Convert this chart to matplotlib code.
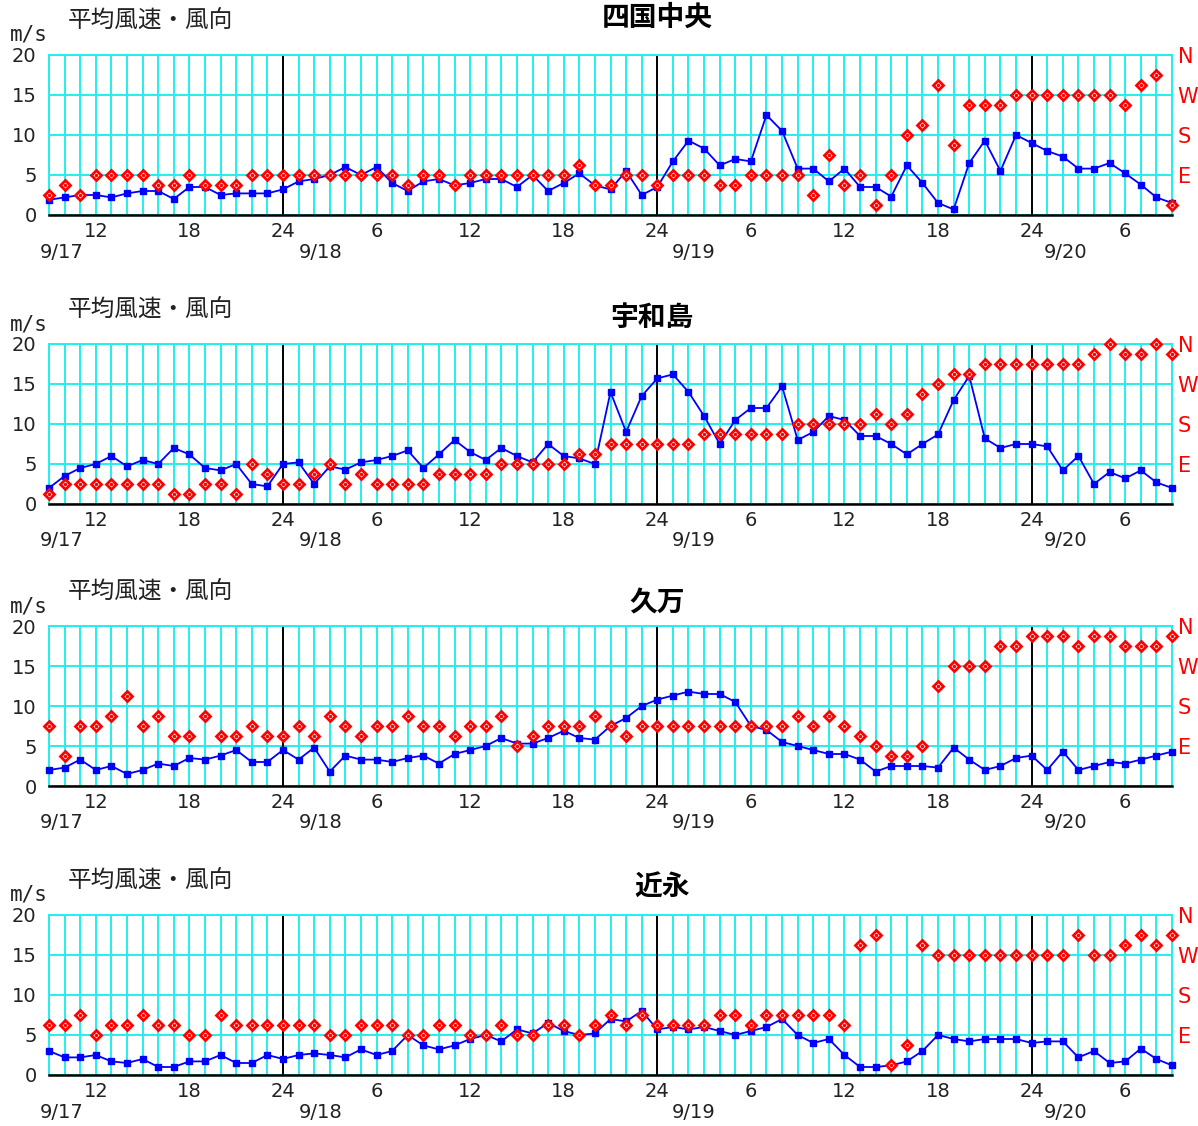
import numpy as np
import matplotlib
matplotlib.use('Agg')
import matplotlib.pyplot as plt
import matplotlib.transforms as mtransforms

plt.rcParams['font.family'] = ['Noto Sans CJK JP', 'DejaVu Sans']

# hourly values from 9/17 9:00 to 9/20 9:00 (73 points)
hours = np.arange(73)

stations = ['四国中央', '宇和島', '久万', '近永']

# mean wind speed (m/s)
speed_shikoku = [1.9, 2.2, 2.5, 2.5, 2.2, 2.7, 3.0, 3.0, 2.0, 3.5, 3.5, 2.5, 2.7, 2.7, 2.7, 3.2,
                 4.2, 4.5, 5.0, 6.0, 5.0, 6.0, 4.0, 3.0, 4.2, 4.5, 3.7, 4.0, 4.5, 4.5, 3.5, 5.0, 3.0, 4.0, 5.2, 3.7, 3.2, 5.5, 2.5, 3.5,
                 6.7, 9.3, 8.3, 6.2, 7.0, 6.7, 12.5, 10.5, 5.8, 5.8, 4.2, 5.8, 3.5, 3.5, 2.3, 6.2, 4.0, 1.5, 0.7, 6.5, 9.3, 5.5, 10.0, 9.0,
                 8.0, 7.3, 5.8, 5.8, 6.5, 5.2, 3.8, 2.2, 1.5]
speed_uwajima = [2.0, 3.5, 4.5, 5.0, 6.0, 4.7, 5.5, 5.0, 7.0, 6.2, 4.5, 4.2, 5.0, 2.5, 2.2, 5.0,
                 5.2, 2.5, 4.7, 4.3, 5.2, 5.5, 6.0, 6.7, 4.5, 6.2, 8.0, 6.5, 5.5, 7.0, 6.0, 5.2, 7.5, 6.0, 5.7, 5.0, 14.0, 9.0, 13.5, 15.7,
                 16.2, 14.0, 11.0, 7.5, 10.5, 12.0, 12.0, 14.7, 8.0, 9.0, 11.0, 10.5, 8.5, 8.5, 7.5, 6.2, 7.5, 8.7, 13.0, 16.0, 8.2, 7.0, 7.5, 7.5,
                 7.2, 4.2, 6.0, 2.5, 4.0, 3.2, 4.2, 2.7, 2.0]
speed_kuma = [2.0, 2.3, 3.3, 2.0, 2.5, 1.5, 2.0, 2.8, 2.5, 3.5, 3.3, 3.8, 4.5, 3.0, 3.0, 4.5,
              3.3, 4.8, 1.8, 3.8, 3.3, 3.3, 3.0, 3.5, 3.8, 2.8, 4.0, 4.5, 5.0, 6.0, 5.3, 5.3, 6.0, 6.9, 6.0, 5.8, 7.5, 8.5, 10.0, 10.8,
              11.3, 11.8, 11.5, 11.5, 10.5, 7.5, 7.0, 5.5, 5.0, 4.5, 4.0, 4.0, 3.3, 1.8, 2.5, 2.5, 2.5, 2.3, 4.8, 3.3, 2.0, 2.5, 3.5, 3.8,
              2.0, 4.3, 2.0, 2.5, 3.0, 2.8, 3.3, 3.8, 4.3]
speed_chikanaga = [3.0, 2.2, 2.2, 2.5, 1.7, 1.5, 2.0, 1.0, 1.0, 1.7, 1.7, 2.5, 1.5, 1.5, 2.5, 2.0,
                   2.5, 2.7, 2.5, 2.2, 3.2, 2.5, 3.0, 5.0, 3.7, 3.2, 3.7, 4.5, 5.0, 4.2, 5.7, 5.2, 6.5, 5.5, 5.0, 5.2, 7.0, 6.7, 8.0, 5.7,
                   6.0, 5.7, 6.0, 5.5, 5.0, 5.5, 6.0, 7.0, 5.0, 4.0, 4.5, 2.5, 1.0, 1.0, 1.2, 1.7, 3.0, 5.0, 4.5, 4.2, 4.5, 4.5, 4.5, 4.0,
                   4.2, 4.2, 2.2, 3.0, 1.5, 1.7, 3.3, 2.0, 1.2]

# wind direction, 16 points (1 = NNE ... 4 = E, 8 = S, 12 = W, 16 = N)
dir_shikoku = [2, 3, 2, 4, 4, 4, 4, 3, 3, 4, 3, 3, 3, 4, 4, 4,
               4, 4, 4, 4, 4, 4, 4, 3, 4, 4, 3, 4, 4, 4, 4, 4, 4, 4, 5, 3, 3, 4, 4, 3,
               4, 4, 4, 3, 3, 4, 4, 4, 4, 2, 6, 3, 4, 1, 4, 8, 9, 13, 7, 11, 11, 11, 12, 12,
               12, 12, 12, 12, 12, 11, 13, 14, 1]
dir_uwajima = [1, 2, 2, 2, 2, 2, 2, 2, 1, 1, 2, 2, 1, 4, 3, 2,
               2, 3, 4, 2, 3, 2, 2, 2, 2, 3, 3, 3, 3, 4, 4, 4, 4, 4, 5, 5, 6, 6, 6, 6,
               6, 6, 7, 7, 7, 7, 7, 7, 8, 8, 8, 8, 8, 9, 8, 9, 11, 12, 13, 13, 14, 14, 14, 14,
               14, 14, 14, 15, 16, 15, 15, 16, 15]
dir_kuma = [6, 3, 6, 6, 7, 9, 6, 7, 5, 5, 7, 5, 5, 6, 5, 5,
            6, 5, 7, 6, 5, 6, 6, 7, 6, 6, 5, 6, 6, 7, 4, 5, 6, 6, 6, 7, 6, 5, 6, 6,
            6, 6, 6, 6, 6, 6, 6, 6, 7, 6, 7, 6, 5, 4, 3, 3, 4, 10, 12, 12, 12, 14, 14, 15,
            15, 15, 14, 15, 15, 14, 14, 14, 15]
dir_chikanaga = [5, 5, 6, 4, 5, 5, 6, 5, 5, 4, 4, 6, 5, 5, 5, 5,
                 5, 5, 4, 4, 5, 5, 5, 4, 4, 5, 5, 4, 4, 5, 4, 4, 5, 5, 4, 5, 6, 5, 6, 5,
                 5, 5, 5, 6, 6, 5, 6, 6, 6, 6, 6, 5, 13, 14, 1, 3, 13, 12, 12, 12, 12, 12, 12, 12,
                 12, 12, 14, 12, 12, 13, 14, 13, 14]

speeds = [speed_shikoku, speed_uwajima, speed_kuma, speed_chikanaga]
dirs = [dir_shikoku, dir_uwajima, dir_kuma, dir_chikanaga]

tick_pos = [3, 9, 15, 21, 27, 33, 39, 45, 51, 57, 63, 69]
tick_labels = ['12', '18', '24', '6', '12', '18', '24', '6', '12', '18', '24', '6']
midnights = [15, 39, 63]
day_pos = [0.8, 17.4, 41.3, 65.2]
day_labels = ['9/17', '9/18', '9/19', '9/20']
dir_ticks = [4, 8, 12, 16]
dir_labels = ['E', 'S', 'W', 'N']

W, H = 1198, 1126
fig = plt.figure(figsize=(W / 100, H / 100), dpi=100)

cyan = '#22EEEE'
panel_tops = [55, 344, 626, 915]
title_xy = [(657, 18), (652, 318), (657, 603), (662, 888)]


def px(x, y):
    return x / W, 1 - y / H


for i, top in enumerate(panel_tops):
    ax = fig.add_axes([49 / W, 1 - (top + 160) / H, 1123 / W, 160 / H])
    ax.set_xlim(0, 72)
    ax.set_ylim(0, 20)
    ax.set_axisbelow(True)

    ax.set_xticks(hours, minor=True)
    ax.set_xticks(tick_pos)
    ax.set_xticklabels(tick_labels)
    ax.set_yticks([0, 5, 10, 15, 20])
    ax.grid(True, which='both', axis='x', color=cyan, lw=1.4)
    ax.grid(True, which='major', axis='y', color=cyan, lw=1.4)
    ax.tick_params(axis='both', which='both', length=0, labelsize=14, labelcolor='#222222')
    ax.tick_params(axis='x', pad=5)
    ax.tick_params(axis='y', pad=9)
    for lab in ax.get_xticklabels() + ax.get_yticklabels():
        lab.set_family('DejaVu Sans')

    for s in ['left', 'right', 'top']:
        ax.spines[s].set_color(cyan)
        ax.spines[s].set_linewidth(1.4)
    ax.spines['bottom'].set_color('black')
    ax.spines['bottom'].set_linewidth(1.8)

    for m in midnights:
        ax.axvline(m, color='black', lw=1.4, zorder=2)

    ax.plot(hours, speeds[i], color='#0000FF', lw=1.3, marker='s', ms=5,
            zorder=4, clip_on=False)

    ax2 = ax.twinx()
    ax2.set_ylim(0, 16)
    ax2.set_yticks(dir_ticks)
    ax2.set_yticklabels(dir_labels)
    ax2.tick_params(axis='y', length=0, pad=4, labelsize=15, labelcolor='red')
    for lab in ax2.get_yticklabels():
        lab.set_family('DejaVu Sans')
    for s in ax2.spines.values():
        s.set_visible(False)
    ax2.plot(hours, dirs[i], ls='none', marker='D', ms=5, mfc='white', mec='red',
             mew=2.0, clip_on=False, zorder=5)
    ax2.plot(hours, dirs[i], ls='none', marker='o', ms=1.5, color='red',
             clip_on=False, zorder=6)

    trans = mtransforms.blended_transform_factory(ax.transData, ax.transAxes)
    for dp, dl in zip(day_pos, day_labels):
        ax.text(dp, -37 / 160, dl, transform=trans, ha='center', va='center',
                fontsize=14, color='#222222', family='DejaVu Sans')

    fig.text(*px(68, top - 34), '平均風速・風向', fontsize=17, ha='left', va='center',
             color='#222222')
    fig.text(*px(10, top - 20), 'm/s', fontsize=15, ha='left', va='center',
             color='#222222', family='DejaVu Sans Mono')
    fig.text(*px(*title_xy[i]), stations[i], fontsize=20, fontweight='bold',
             ha='center', va='center', color='black')

fig.savefig('out.png', dpi=100)
